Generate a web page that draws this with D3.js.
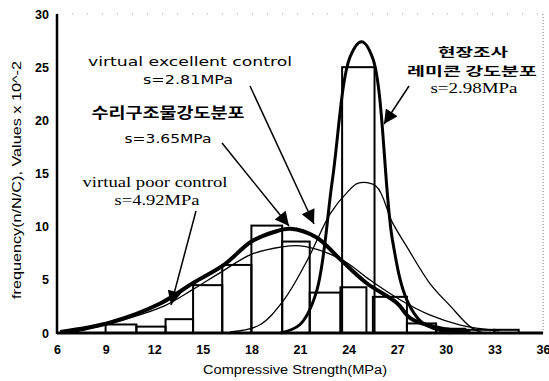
<!DOCTYPE html>
<html>
<head>
<meta charset="utf-8">
<script src="https://cdn.jsdelivr.net/npm/d3@7"></script>
<style>
  body { margin: 0; background: white; }
</style>
</head>
<body>
<script>
var w = 549;
var h = 381;

// histogram bins (MPa) and frequencies
var binStart = [9.0, 10.9, 12.7, 14.4, 16.2, 18.0, 19.9, 21.6, 23.5, 23.6, 25.5, 27.6, 29.4, 31.2, 33.0];
var binEnd   = [10.9, 12.7, 14.4, 16.2, 18.0, 19.9, 21.6, 23.5, 25.1, 25.6, 27.6, 29.4, 31.2, 33.0, 34.5];
var binValue = [0.8, 0.6, 1.3, 4.5, 6.4, 10.1, 8.6, 3.8, 4.3, 25.0, 3.4, 0.9, 0.4, 0.3, 0.3];

// fitted curves
var suriX = [6.2, 9.3, 12.4, 14.4, 16.3, 18.0, 19.4, 20.4, 22.0, 23.5, 25.1, 27.0, 27.8, 29.5, 31.5];
var suriY = [0.1, 1.0, 2.8, 4.7, 6.4, 8.6, 9.5, 9.8, 9.0, 6.9, 4.7, 2.8, 1.4, 0.5, 0.1];

var poorX = [7.1, 9.0, 11.1, 12.7, 14.4, 16.2, 18.0, 19.9, 21.0, 22.2, 23.8, 25.3, 27.2, 29.0, 30.9, 33.3];
var poorY = [0.1, 0.75, 1.7, 2.6, 4.1, 5.8, 7.4, 8.1, 8.2, 7.8, 6.7, 5.0, 3.1, 1.7, 0.75, 0.2];

var goodX = [16.7, 18.5, 20.0, 21.4, 22.9, 23.9, 24.6, 25.7, 26.7, 27.6, 29.0, 30.3, 31.5, 32.3];
var goodY = [0.1, 0.75, 3.1, 6.7, 11.3, 13.2, 14.1, 13.8, 10.4, 8.1, 4.7, 2.5, 0.6, 0.0];

var fieldX = [19.8, 21.0, 22.0, 23.0, 24.1, 24.8, 25.5, 26.7, 27.6, 28.6, 30.3];
var fieldY = [0.0, 0.8, 3.8, 14.4, 26.0, 27.4, 25.8, 8.8, 3.1, 0.9, 0.0];

var xTicks = [6, 9, 12, 15, 18, 21, 24, 27, 30, 33, 36];
var yTicks = [0, 5, 10, 15, 20, 25, 30];

var svg = d3.select("body").append("svg")
  .attr("width", w)
  .attr("height", h)
  .style("background-color", "white");

var x = d3.scaleLinear().domain([6, 36]).range([57, 543]);
var y = d3.scaleLinear().domain([0, 30]).range([333, 14]);

// dotted frame top and right
svg.append("line")
  .attr("x1", x(6)).attr("x2", x(36)).attr("y1", y(30)).attr("y2", y(30))
  .attr("stroke", "#999").attr("stroke-width", 1).attr("stroke-dasharray", "1,14");
svg.append("line")
  .attr("x1", x(36)).attr("x2", x(36)).attr("y1", y(30)).attr("y2", y(0))
  .attr("stroke", "#777").attr("stroke-width", 1).attr("stroke-dasharray", "1,2");

// bars
var bins = binStart.map(function (d, i) {
  return { x0: d, x1: binEnd[i], v: binValue[i] };
});
svg.selectAll("rect.bar")
  .data(bins)
  .join("rect")
  .attr("class", "bar")
  .attr("x", function (d) { return x(d.x0); })
  .attr("y", function (d) { return y(d.v); })
  .attr("width", function (d) { return x(d.x1) - x(d.x0); })
  .attr("height", function (d) { return y(0) - y(d.v); })
  .attr("fill", "none")
  .attr("stroke", "black")
  .attr("stroke-width", 2);

// curves
var line = d3.line()
  .x(function (d) { return x(d[0]); })
  .y(function (d) { return y(d[1]); })
  .curve(d3.curveCatmullRom);

function pairs(xs, ys) {
  return xs.map(function (d, i) { return [d, ys[i]]; });
}
var curves = [
  { pts: pairs(poorX, poorY), sw: 1.3 },
  { pts: pairs(goodX, goodY), sw: 1.3 },
  { pts: pairs(fieldX, fieldY), sw: 3 },
  { pts: pairs(suriX, suriY), sw: 4 }
];
svg.selectAll("path.curve")
  .data(curves)
  .join("path")
  .attr("class", "curve")
  .attr("d", function (d) { return line(d.pts); })
  .attr("fill", "none")
  .attr("stroke", "black")
  .attr("stroke-width", function (d) { return d.sw; });

// axes
var yAxis = d3.axisLeft(y).tickValues(yTicks).tickSize(0).tickPadding(8);
var gy = svg.append("g").attr("transform", "translate(" + x(6) + ",0)").call(yAxis);
gy.select(".domain").remove();
gy.selectAll("text")
  .attr("font-family", "Liberation Sans, Arial, sans-serif")
  .attr("font-size", 12.5).attr("font-weight", "bold");

var xAxis = d3.axisBottom(x).tickValues(xTicks).tickSize(0).tickPadding(12);
var gx = svg.append("g").attr("transform", "translate(0," + y(0) + ")").call(xAxis);
gx.select(".domain").remove();
gx.selectAll("text")
  .attr("font-family", "Liberation Sans, Arial, sans-serif")
  .attr("font-size", 12.5).attr("font-weight", "bold");

svg.append("line")
  .attr("x1", x(6)).attr("x2", x(6)).attr("y1", y(30)).attr("y2", y(0) + 1)
  .attr("stroke", "black").attr("stroke-width", 2.5);
svg.append("line")
  .attr("x1", x(6)).attr("x2", x(36)).attr("y1", y(0)).attr("y2", y(0))
  .attr("stroke", "black").attr("stroke-width", 3);

// axis titles
svg.append("text")
  .attr("x", 295).attr("y", 374)
  .attr("text-anchor", "middle")
  .attr("font-family", "Liberation Sans, Arial, sans-serif")
  .attr("font-size", 12)
  .attr("textLength", 184).attr("lengthAdjust", "spacingAndGlyphs")
  .text("Compressive Strength(MPa)");
svg.append("text")
  .attr("transform", "translate(21,180) rotate(-90)")
  .attr("text-anchor", "middle")
  .attr("font-family", "Liberation Sans Narrow, Liberation Sans, Arial, sans-serif")
  .attr("font-size", 12)
  .attr("textLength", 238).attr("lengthAdjust", "spacingAndGlyphs")
  .text("frequency(n/N/C), Values x 10^-2");

// arrows
svg.append("defs").append("marker")
  .attr("id", "head")
  .attr("viewBox", "0 0 10 10")
  .attr("refX", 10).attr("refY", 5)
  .attr("markerWidth", 16).attr("markerHeight", 14)
  .attr("markerUnits", "userSpaceOnUse")
  .attr("orient", "auto")
  .append("path").attr("d", "M0,0L10,5L0,10Z").attr("fill", "black");

var arrows = [
  [250, 86, 314, 224],
  [222, 143, 289, 226],
  [196, 211, 171, 305],
  [409, 86, 384, 124]
];
svg.selectAll("line.arrow")
  .data(arrows)
  .join("line")
  .attr("class", "arrow")
  .attr("x1", function (d) { return d[0]; })
  .attr("y1", function (d) { return d[1]; })
  .attr("x2", function (d) { return d[2]; })
  .attr("y2", function (d) { return d[3]; })
  .attr("stroke", "black").attr("stroke-width", 1.5)
  .attr("marker-end", "url(#head)");

// annotations (tl = width of the text in the picture)
var notes = [
  { t: "virtual excellent control", x: 190, y: 66, f: "DejaVu Sans, sans-serif", s: 13, tl: 204, b: "normal" },
  { t: "s=2.81MPa", x: 188, y: 84, f: "DejaVu Sans, sans-serif", s: 13, tl: 90, b: "normal" },
  { t: "수리구조물강도분포", x: 168, y: 118, f: "Noto Sans CJK KR, sans-serif", s: 15, tl: 153, b: "bold" },
  { t: "s=3.65MPa", x: 168, y: 143, f: "DejaVu Sans, sans-serif", s: 13, tl: 87, b: "normal" },
  { t: "virtual poor control", x: 155, y: 187, f: "Liberation Serif, serif", s: 14, tl: 145, b: "normal" },
  { t: "s=4.92MPa", x: 157, y: 205, f: "Liberation Serif, serif", s: 14, tl: 85, b: "normal" },
  { t: "현장조사", x: 473, y: 57, f: "Noto Sans CJK KR, sans-serif", s: 12.5, tl: 70, b: "bold" },
  { t: "레미콘 강도분포", x: 472, y: 76, f: "Noto Sans CJK KR, sans-serif", s: 12.5, tl: 130, b: "bold" },
  { t: "s=2.98MPa", x: 474, y: 93, f: "Liberation Serif, serif", s: 14, tl: 87, b: "normal" }
];
svg.selectAll("text.note")
  .data(notes)
  .join("text")
  .attr("class", "note")
  .attr("x", function (d) { return d.x; })
  .attr("y", function (d) { return d.y; })
  .attr("text-anchor", "middle")
  .attr("font-family", function (d) { return d.f; })
  .attr("font-size", function (d) { return d.s; })
  .attr("font-weight", function (d) { return d.b; })
  .attr("textLength", function (d) { return d.tl; })
  .attr("lengthAdjust", "spacingAndGlyphs")
  .text(function (d) { return d.t; });
</script>
</body>
</html>
